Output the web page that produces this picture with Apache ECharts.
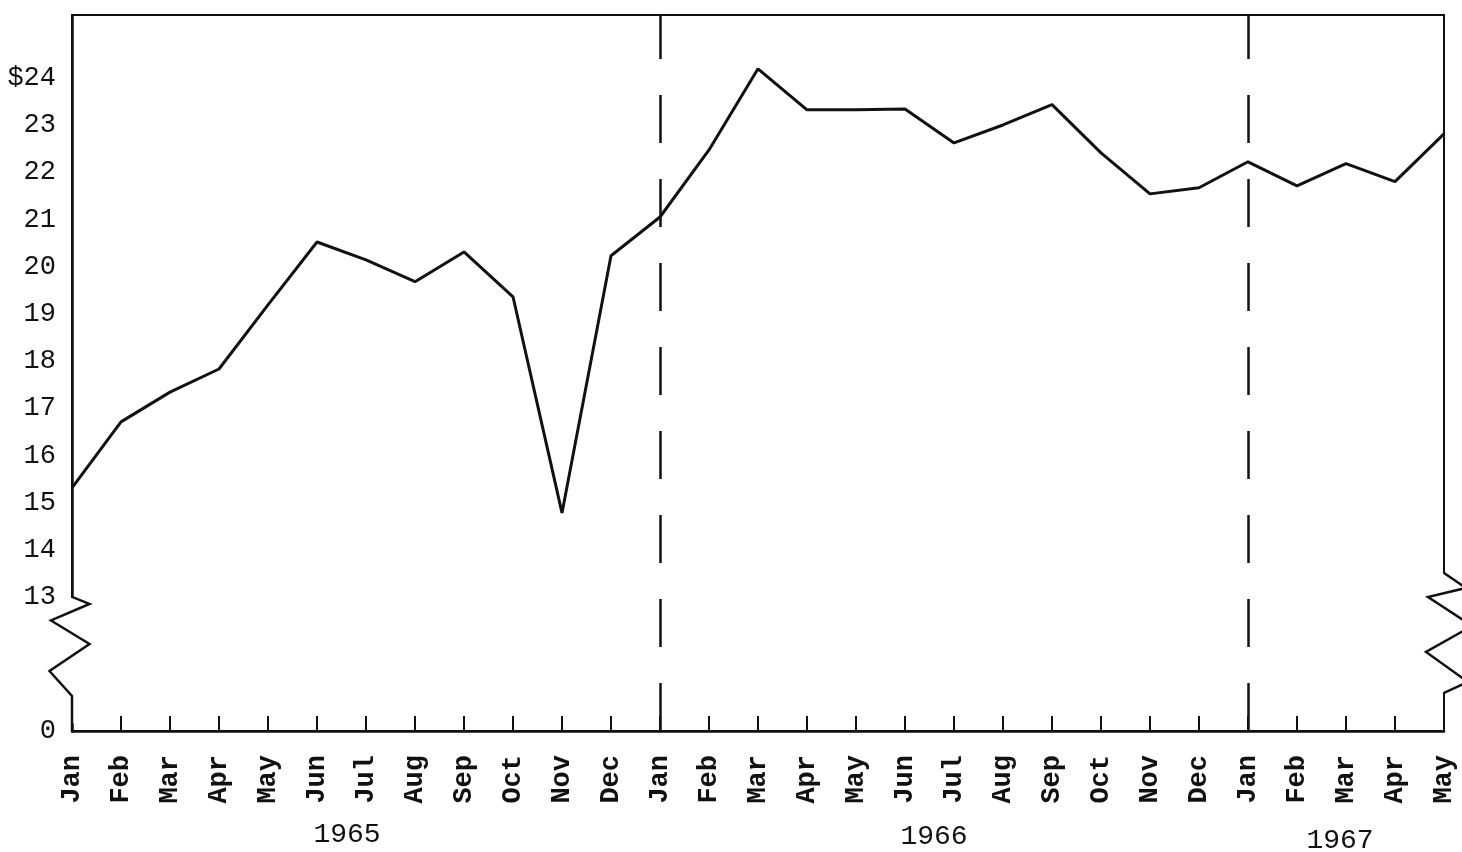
<!DOCTYPE html>
<html><head><meta charset="utf-8">
<script src="https://cdn.jsdelivr.net/npm/echarts@6/dist/echarts.min.js"></script>
<style>html,body{margin:0;padding:0;background:#fff}#c{width:1462px;height:852px}</style>
</head><body><div id="c"></div>
<script>
// ---- data ----
const months = ['Jan','Feb','Mar','Apr','May','Jun','Jul','Aug','Sep','Oct','Nov','Dec',
                'Jan','Feb','Mar','Apr','May','Jun','Jul','Aug','Sep','Oct','Nov','Dec',
                'Jan','Feb','Mar','Apr','May'];
const monthYears = [1965,1965,1965,1965,1965,1965,1965,1965,1965,1965,1965,1965,
                    1966,1966,1966,1966,1966,1966,1966,1966,1966,1966,1966,1966,
                    1967,1967,1967,1967,1967];
const prices = [15.31,16.71,17.34,17.83,19.19,20.52,20.14,19.68,20.31,19.36,14.78,20.23,
                21.05,22.47,24.19,23.32,23.32,23.34,22.62,23.0,23.43,22.41,21.54,21.67,
                22.22,21.71,22.18,21.80,22.81];
const yTicks = [0,13,14,15,16,17,18,19,20,21,22,23,24];
const yearLabels = ['1965','1966','1967'];
const yearDividers = ['Jan 1966','Jan 1967'];

const categories = months.map((m, i) => m + ' ' + monthYears[i]);
const INK = '#111';
const MONO = '"Liberation Mono", "Courier New", monospace';

const chart = echarts.init(document.getElementById('c'));
const option = {
  animation: false,
  backgroundColor: '#fff',
  grid: {
    left: 72, right: 18, top: 15, bottom: 121,
    show: true, borderColor: INK, borderWidth: 2, backgroundColor: 'transparent',
    outerBoundsMode: 'none'
  },
  xAxis: {
    type: 'category', boundaryGap: false, data: categories,
    axisLine: { lineStyle: { color: INK, width: 2.5 } },
    axisTick: { inside: true, length: 15, interval: 0, lineStyle: { color: INK, width: 2 } },
    axisLabel: {
      interval: 0, rotate: 90, margin: 24,
      formatter: v => v.split(' ')[0],
      fontFamily: MONO, fontSize: 27, fontWeight: 'bold', color: INK
    },
    splitLine: { show: false }
  },
  yAxis: {
    type: 'value', min: 0, max: 25.33,
    breaks: [{ start: 0.15, end: 12.85, gap: 2.54 }],
    breakArea: { show: false },
    axisLine: { show: true, lineStyle: { color: INK, width: 2.5 } },
    axisTick: { inside: true, length: 14, customValues: yTicks, lineStyle: { color: INK, width: 1.5 } },
    axisLabel: {
      customValues: yTicks, margin: 16,
      formatter: v => (v === 24 ? '$24' : String(v)),
      fontFamily: MONO, fontSize: 27, color: INK
    },
    splitLine: { show: false }
  },
  series: [{
    type: 'line', data: prices, symbol: 'none',
    lineStyle: { color: INK, width: 3 },
    markLine: {
      silent: true, symbol: 'none', label: { show: false },
      lineStyle: { color: INK, width: 2.5, type: [48, 36] },
      data: yearDividers.map(c => ({ xAxis: c }))
    }
  }]
};
chart.setOption(option);

const xL = chart.convertToPixel({ xAxisIndex: 0 }, categories[0]);
const xR = chart.convertToPixel({ xAxisIndex: 0 }, categories[categories.length - 1]);
const y13 = chart.convertToPixel({ yAxisIndex: 0 }, 13);
const y0 = chart.convertToPixel({ yAxisIndex: 0 }, 0);
const s = (y0 - y13) / 134;

chart.setOption({
  graphic: [
    { type: 'rect', z: 100, shape: { x: xL - 4, y: y13 + 1, width: 8, height: 98 * s }, style: { fill: '#fff' } },
    { type: 'polyline', z: 101, shape: { points: [
        [xL, y13], [xL + 17.5, y13 + 7 * s], [xL - 21, y13 + 23.5 * s], [xL + 17.5, y13 + 47 * s],
        [xL - 22.5, y13 + 74 * s], [xL, y13 + 99 * s], [xL, y0]
      ] }, style: { stroke: INK, lineWidth: 2.5, fill: null } },
    { type: 'rect', z: 100, shape: { x: xR - 4, y: y13 - 23, width: 8, height: 118 }, style: { fill: '#fff' } },
    { type: 'polyline', z: 101, shape: { points: [
        [xR, y13 - 24], [xR + 22, y13 - 9], [xR - 16, y13], [xR + 28, y13 + 29],
        [xR - 18, y13 + 55], [xR + 24, y13 + 85], [xR, y13 + 96]
      ] }, style: { stroke: INK, lineWidth: 2.5, fill: null } },
    { type: 'text', x: 347, y: 835, style: { text: yearLabels[0], font: '28px ' + MONO, fill: INK, textAlign: 'center', textVerticalAlign: 'middle' } },
    { type: 'text', x: 934, y: 837, style: { text: yearLabels[1], font: '28px ' + MONO, fill: INK, textAlign: 'center', textVerticalAlign: 'middle' } },
    { type: 'text', x: 1340, y: 841, style: { text: yearLabels[2], font: '28px ' + MONO, fill: INK, textAlign: 'center', textVerticalAlign: 'middle' } }
  ]
});
</script>
</body></html>
